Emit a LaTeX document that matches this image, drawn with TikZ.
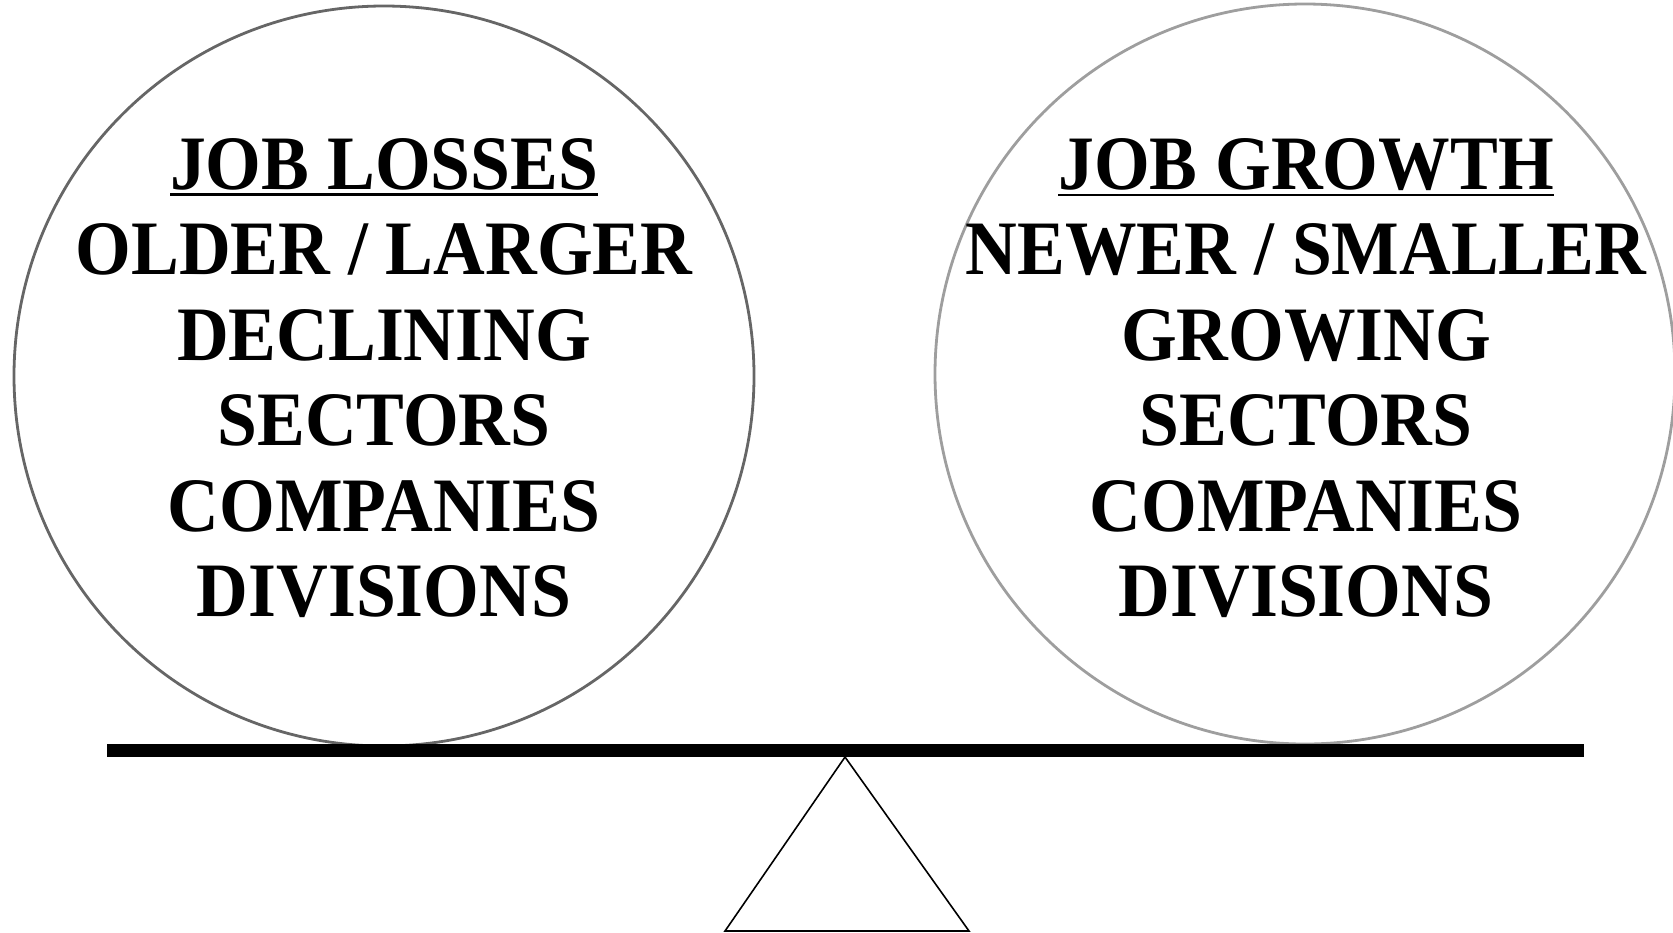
\documentclass[tikz,border=0pt]{standalone}
\usepackage{fontspec}
\setmainfont{Liberation Serif}
\newfontfamily\scalefont[FakeStretch=0.93]{Liberation Serif}
\newcommand\thickul[1]{\vtop{\hbox{#1}\kern1.6pt\hrule height 1.3pt}}
\begin{document}
\begin{tikzpicture}[x=0.5pt,y=-0.5pt,
  pan/.style={circle,draw,line width=1.4pt,minimum size=370pt,inner sep=0pt},
  label/.style={align=center,inner sep=0pt,font=\scalefont\bfseries\fontsize{38.5}{42.7}\selectfont},
  pivot/.style={draw=black,line width=0.8pt,line join=miter}]
\useasboundingbox (0,0) rectangle (1673,932);
\node[pan,draw=black!60] (lc) at (384,376) {};
\node[pan,draw=black!38] (rc) at (1305,374) {};
\node[label] (lt) at (384,378) {\thickul{JOB LOSSES}\\OLDER / LARGER\\DECLINING\\SECTORS\\COMPANIES\\DIVISIONS};
\node[label] (rt) at (1306,378) {\thickul{JOB GROWTH}\\NEWER / SMALLER\\GROWING\\SECTORS\\COMPANIES\\DIVISIONS};
\coordinate (bl) at (107,744);
\coordinate (br) at (1584,757);
\fill[black] (bl) rectangle (br);
\coordinate (apex) at (845,757);
\coordinate (baseL) at (725,931);
\coordinate (baseR) at (969,931);
\draw[pivot] (apex) -- (baseL) -- (baseR) -- cycle;
\end{tikzpicture}
\end{document}
